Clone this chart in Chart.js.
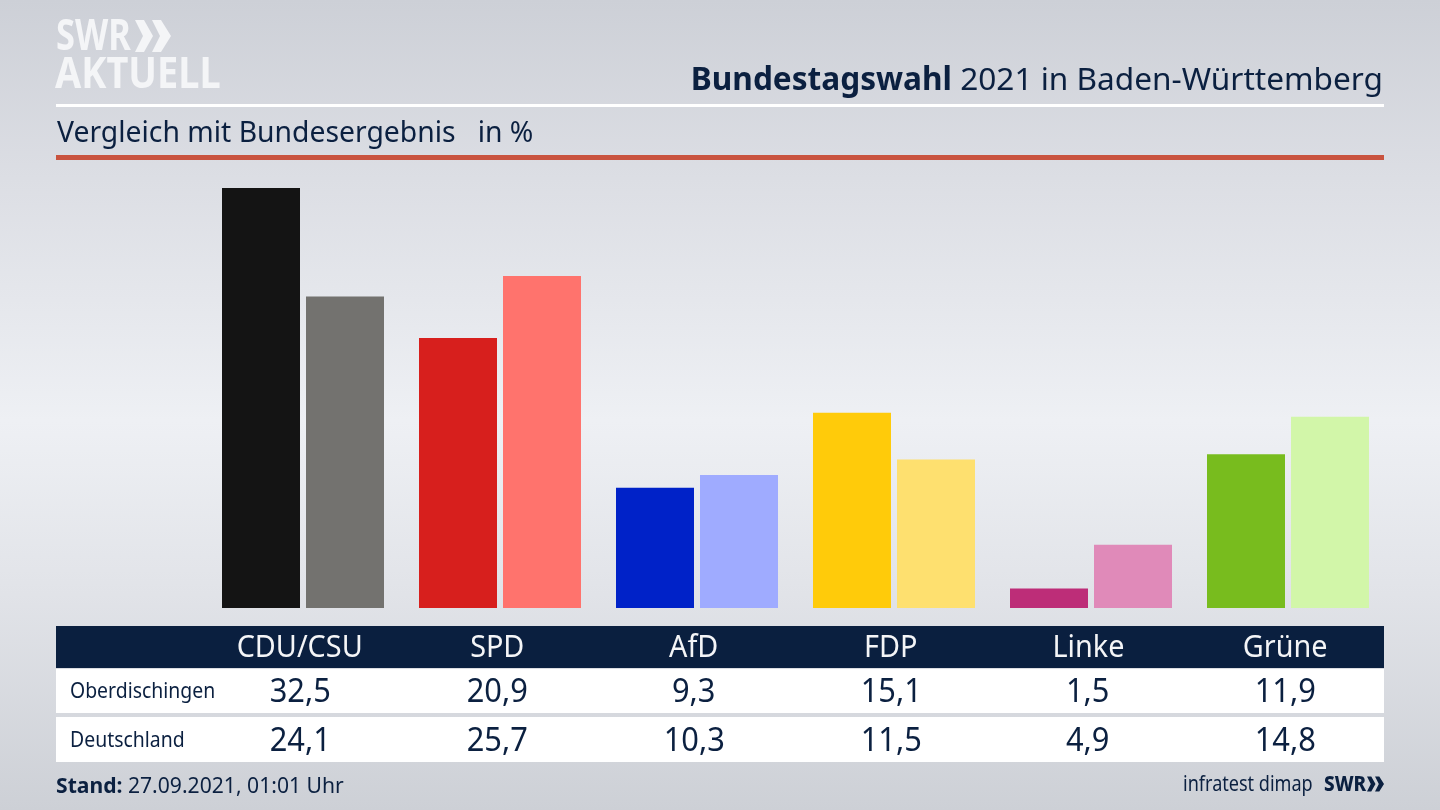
<!DOCTYPE html>
<html lang="de">
<head>
<meta charset="utf-8">
<title>Bundestagswahl 2021 in Baden-Württemberg</title>
<script src="https://cdn.jsdelivr.net/npm/chart.js@4"></script>
<style>
  html, body { margin: 0; padding: 0; }
  body {
    width: 1440px; height: 810px; overflow: hidden; position: relative;
    font-family: "Noto Sans", sans-serif; color: #0b2040;
    background: linear-gradient(180deg, #cdd0d7 0%, #dcdee4 22%, #eef0f4 52%, #e2e4e9 72%, #cdd0d6 100%);
  }
  canvas { position: absolute; left: 0; top: 0; }
  .txt { position: absolute; white-space: nowrap; line-height: 1; transform-origin: 0 0; }
  .rule { position: absolute; left: 56px; width: 1328px; }
  .band { position: absolute; left: 56px; width: 1328px; }
  .cell { position: absolute; width: 197px; text-align: center; line-height: 1; white-space: nowrap; }
  .cell span { display: inline-block; }
</style>
</head>
<body>
<canvas id="chart" width="1440" height="810"></canvas>

<div class="txt" style="left:56px;top:12px;font-size:43px;font-weight:700;color:#f4f5f7;transform:scaleX(.8)">SWR</div>
<svg style="position:absolute;left:135px;top:20px" width="36" height="32" viewBox="0 0 36 32">
  <path d="M0 0h9l9 16-9 16H0l8-16zM17 0h9l10 16-10 16h-9l8-16z" fill="#f4f5f7"/>
</svg>
<div class="txt" style="left:55px;top:50px;font-size:43px;font-weight:700;color:#f4f5f7;transform:scaleX(.882)">AKTUELL</div>

<div class="txt" style="right:57px;top:62px;font-size:31.6px;"><b>Bundestagswahl</b> 2021 in Baden-Württemberg</div>
<div class="rule" style="top:104px;height:3px;background:#fff"></div>
<div class="txt" style="left:57px;top:116px;font-size:29.5px;transform:scaleX(.96)">Vergleich mit Bundesergebnis &nbsp; in %</div>
<div class="rule" style="top:155px;height:5px;background:#c9533f"></div>

<div class="band" style="top:626px;height:42px;background:#0a1f3f"></div>
<div class="band" style="top:669px;height:44px;background:#fff"></div>
<div class="band" style="top:717px;height:45px;background:#fff"></div>
<div id="table"></div>

<div class="txt" style="left:56px;top:773px;font-size:22px;transform:scaleX(.96)"><b>Stand:</b> 27.09.2021, 01:01 Uhr</div>
<div class="txt" style="left:1183px;top:773px;font-size:21px;transform:scaleX(.86)">infratest dimap</div>
<div class="txt" style="left:1324px;top:773px;font-size:21px;font-weight:800;transform:scaleX(.9)">SWR</div>
<svg style="position:absolute;left:1367px;top:776px" width="17" height="16" viewBox="0 0 36 32">
  <path d="M0 0h9l9 16-9 16H0l8-16zM17 0h9l10 16-10 16h-9l8-16z" fill="#0b2040"/>
</svg>

<script>
const parties = ['CDU/CSU', 'SPD', 'AfD', 'FDP', 'Linke', 'Grüne'];
const oberdischingen = [32.5, 20.9, 9.3, 15.1, 1.5, 11.9];
const deutschland = [24.1, 25.7, 10.3, 11.5, 4.9, 14.8];
const localColors = ['#141414', '#d71f1d', '#0022c8', '#ffcb0a', '#bd2d78', '#78bc1e'];
const nationalColors = ['#73726f', '#ff736d', '#9fabff', '#fee06f', '#e08ab9', '#d2f6a9'];

new Chart(document.getElementById('chart'), {
  type: 'bar',
  data: {
    labels: parties,
    datasets: [
      { label: 'Oberdischingen', data: oberdischingen, backgroundColor: localColors },
      { label: 'Deutschland', data: deutschland, backgroundColor: nationalColors },
    ],
  },
  options: {
    responsive: false,
    animation: false,
    layout: { padding: { left: 204.5, right: 53.5, top: 188, bottom: 202 } },
    datasets: { bar: { barPercentage: 78 / 84, categoryPercentage: 168 / 197 } },
    scales: {
      x: { display: false },
      y: { display: false, min: 0, max: 32.5 },
    },
    plugins: { legend: { display: false }, tooltip: { enabled: false } },
  },
});

// table under the bars, columns line up with the party groups
const table = document.getElementById('table');
function addCell(text, x, top, size, color, squeeze) {
  const el = document.createElement('div');
  el.className = 'cell';
  el.style.left = x - 98.5 + 'px';
  el.style.top = top + 'px';
  el.style.fontSize = size + 'px';
  el.style.color = color;
  const span = document.createElement('span');
  span.style.transform = `scaleX(${squeeze})`;
  span.textContent = text;
  el.appendChild(span);
  table.appendChild(el);
}
function addRowLabel(text, top) {
  const el = document.createElement('div');
  el.className = 'txt';
  el.style.left = '70px';
  el.style.top = top + 'px';
  el.style.fontSize = '21px';
  el.style.transform = 'scaleX(.925)';
  el.textContent = text;
  table.appendChild(el);
}
const fmt = (v) => v.toFixed(1).replace('.', ',');
parties.forEach((party, i) => {
  const x = 300 + i * 197;
  addCell(party, x, 631, 30, '#f4f5f7', 0.96);
  addCell(fmt(oberdischingen[i]), x, 673, 33.5, '#0b2040', 0.92);
  addCell(fmt(deutschland[i]), x, 722, 33.5, '#0b2040', 0.92);
});
addRowLabel('Oberdischingen', 680);
addRowLabel('Deutschland', 729);
</script>
</body>
</html>
